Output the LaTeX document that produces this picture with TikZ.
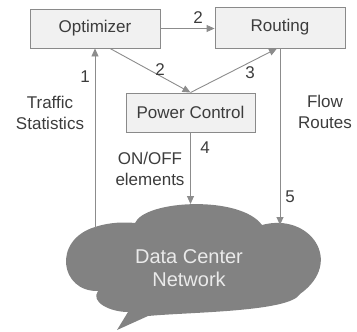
\documentclass[tikz,border=0pt]{standalone}
\usepackage{fontspec}
\setmainfont{Liberation Sans}
\usetikzlibrary{arrows.meta}
\definecolor{linegray}{HTML}{8C8C8C}
\definecolor{boxfill}{HTML}{F1F1F1}
\definecolor{boxedge}{HTML}{8A8A8A}
\definecolor{txt}{HTML}{3C3C3C}
\definecolor{cloudgray}{HTML}{828282}
\definecolor{cloudtxt}{HTML}{EAEAEA}
\tikzset{
  blockbox/.style={draw=boxedge, fill=boxfill, line width=0.9pt,
    minimum width=130pt, minimum height=40pt, inner sep=0pt,
    text=txt, font=\fontsize{17}{21}\selectfont},
  lbl/.style={text=txt, font=\fontsize{17}{21}\selectfont, inner sep=0pt, align=center},
  flow/.style={draw=linegray, line width=0.9pt,
    -{Triangle[length=8pt,width=7pt]}, shorten >=0pt}
}
\begin{document}
\begin{tikzpicture}[x=1pt,y=-1pt]
\useasboundingbox (0,0) rectangle (357,332);

% cloud
\fill[cloudgray]
  (98,291) .. controls (60,292) and (52,240) .. (95,227)
  .. controls (110,222) and (125,222) .. (135,223)
  .. controls (145,200) and (240,195) .. (262,225)
  .. controls (310,212) and (345,262) .. (300,294)
  .. controls (290,312) and (190,312) .. (148,316)
  -- (117,330) -- (128,312)
  .. controls (110,312) and (90,302) .. (98,291) -- cycle;
\node[text=cloudtxt, font=\fontsize{20}{23}\selectfont, align=center, inner sep=0pt]
  (dcn) at (189,268) {Data Center\\Network};

\coordinate (cloudL) at (95,228);
\coordinate (cloudT) at (190.5,204);
\coordinate (cloudR) at (280,225);

% blocks
\node[blockbox, minimum height=39pt] (opt) at (95,28.5) {Optimizer};
\node[blockbox, minimum height=41pt] (rout) at (280,27.5) {Routing};
\node[blockbox, minimum width=129pt, minimum height=39pt] (pc) at (190.5,112.5) {Power Control};

% connectors
\draw[flow] (opt.east) -- (rout.west |- opt.east);
\draw[flow] (cloudL) -- (opt.south);
\draw[flow] ([xshift=15pt]opt.south) -- (pc.north);
\draw[flow] (pc.north) -- ([xshift=-3pt]rout.south);
\draw[flow] (pc.south) -- (cloudT);
\draw[flow] (rout.south) -- (cloudR);

% labels
\node[lbl] (n2a) at (198,18) {2};
\node[lbl] (n1) at (85,77) {1};
\node[lbl] (n2b) at (160,70) {2};
\node[lbl] (n3) at (250,73) {3};
\node[lbl] (n4) at (205,148) {4};
\node[lbl] (n5) at (290,197) {5};
\node[lbl] (traffic) at (50,113) {Traffic\\Statistics};
\node[lbl] (routes) at (325,112) {Flow\\Routes};
\node[lbl] (onoff) at (150,169) {ON/OFF\\elements};
\end{tikzpicture}
\end{document}
